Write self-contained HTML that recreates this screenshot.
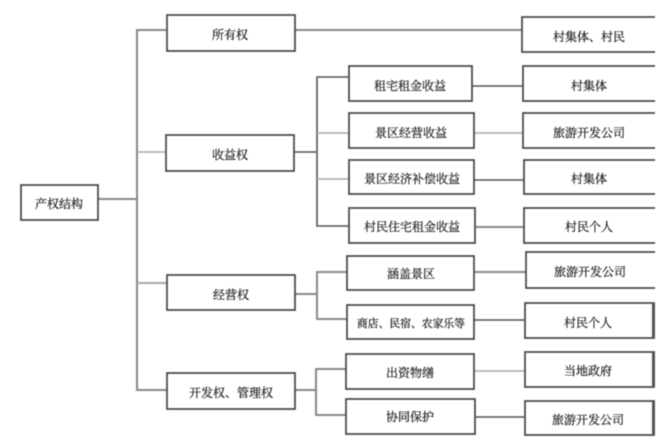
<!DOCTYPE html>
<html lang="zh"><head><meta charset="utf-8"><title>产权结构</title>
<style>
html,body{margin:0;padding:0;background:#fff;width:668px;height:437px;overflow:hidden}
svg{display:block;filter:blur(.6px)}
text{font-family:"Liberation Serif","Noto Serif CJK SC",serif;font-size:12px;fill:#222;stroke:#222;stroke-width:.25;text-anchor:middle}
.b rect{fill:#fff;stroke:#444;stroke-width:1.7}
.d{stroke:#555;stroke-width:1.6;fill:none}
.m{stroke:#888;stroke-width:2;fill:none}
.l{stroke:#aaa;stroke-width:1.5;fill:none}
</style></head><body>
<svg width="668" height="437" viewBox="0 0 668 437" xmlns="http://www.w3.org/2000/svg">
<path class="m" d="M98 199H137M166 30H137V390H167"/>
<path class="l" d="M137 152H166"/>
<path class="m" style="stroke:#aaa" d="M137 283H167"/>
<path class="m" d="M295 30H522"/>
<path class="d" d="M294 152H317M349 77H317V226H349"/>
<path class="l" d="M317 133H349M317 179H349"/>
<path class="m" d="M295 294H317M347 272H317V319H347"/>
<path class="m" d="M295 390H316M346 369H316V415H346"/>
<path class="d" d="M472 86H523M474 180H524M474 320H525M475 417H525"/>
<path class="l" d="M474 133H523M474 371H525"/>
<path class="m" d="M475 227H524M474 272H526"/>
<g class="b">
<rect x="21" y="185" width="77" height="35"/>
<rect x="167" y="15" width="128" height="36"/>
<rect x="166" y="135" width="128" height="36"/>
<rect x="167" y="275" width="128" height="35"/>
<rect x="167" y="373" width="128" height="36"/>
<rect x="349" y="66" width="123" height="35"/>
<rect x="349" y="113" width="125" height="35"/>
<rect x="349" y="160" width="125" height="34"/>
<rect x="349" y="208" width="126" height="35"/>
<rect x="347" y="256" width="127" height="34"/>
<rect x="347" y="305" width="127" height="34"/>
<rect x="346" y="354" width="128" height="35"/>
<rect x="346" y="399" width="129" height="35"/>
<rect x="522" y="17" width="160" height="35"/>
<rect x="523" y="66" width="160" height="35"/>
<rect x="523" y="113" width="160" height="35"/>
<rect x="524" y="160" width="160" height="34"/>
<rect x="524" y="208" width="160" height="35"/>
<rect x="526" y="252" width="160" height="36"/>
<rect x="525" y="303" width="160" height="35"/>
<rect x="525" y="352" width="160" height="35"/>
<rect x="525" y="401" width="160" height="34"/>
</g>
<rect x="655" y="0" width="13" height="437" fill="#fff"/>
<rect x="652" y="303" width="3" height="35" fill="#555"/>
<rect x="652" y="352" width="3" height="35" fill="#555"/>
<rect x="652" y="401" width="3" height="34" fill="#555"/>
<text x="59" y="208">产权结构</text>
<text x="230" y="39">所有权</text>
<text x="230" y="159">收益权</text>
<text x="231" y="299">经营权</text>
<text x="231" y="397">开发权、管理权</text>
<text x="410" y="90">租宅租金收益</text>
<text x="411" y="137">景区经营收益</text>
<text x="412" y="183">景区经济补偿收益</text>
<text x="412" y="231">村民住宅租金收益</text>
<text x="411" y="278">涵盖景区</text>
<text x="411" y="327" style="font-size:10.8px">商店、民宿、农家乐等</text>
<text x="410" y="377">出资物缮</text>
<text x="410" y="421">协同保护</text>
<text x="589" y="41">村集体、村民</text>
<text x="589" y="90">村集体</text>
<text x="589" y="137">旅游开发公司</text>
<text x="589" y="183">村集体</text>
<text x="589" y="231">村民个人</text>
<text x="590" y="276">旅游开发公司</text>
<text x="588" y="327">村民个人</text>
<text x="588" y="375">当地政府</text>
<text x="588" y="424">旅游开发公司</text>
</svg>
</body></html>
